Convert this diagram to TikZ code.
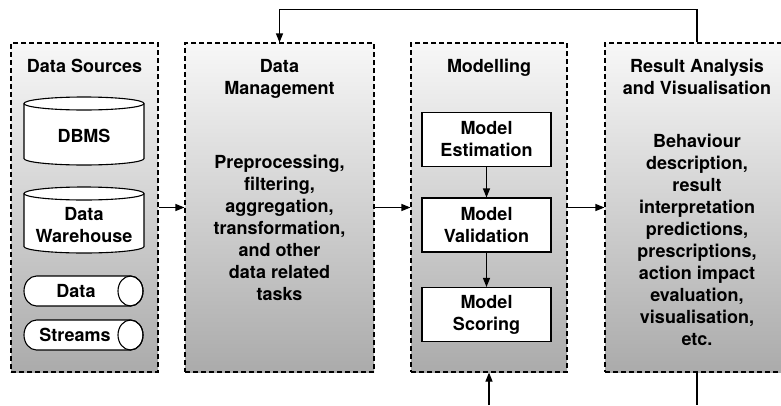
\documentclass[tikz,border=0pt]{standalone}
\usepackage{fontspec}
\setmainfont{TeX Gyre Heros}
\usetikzlibrary{arrows.meta}
\begin{document}
\begin{tikzpicture}[x=1pt,y=-1pt,
    stage/.style={draw, dash pattern=on 5pt off 3pt, line width=1.1pt,
      top color=black!3, bottom color=black!33, minimum width=#1,
      minimum height=329pt, inner sep=0pt},
    txt/.style={font=\bfseries\fontsize{18}{22}\selectfont, align=center, inner sep=0pt},
    model/.style={txt, draw, line width=1.1pt, fill=white, minimum width=129pt, minimum height=54pt},
    storeline/.style={draw, line width=1.1pt, fill=white},
    link/.style={line width=1.1pt, -{Triangle[length=9pt,width=7pt]}}]
    \pgfmathsetmacro{\mid}{207.5};
    \useasboundingbox (0,0) rectangle (781,405);
    % the four stages
    \node[stage=147pt] (src) at (84.5,\mid) {};
    \node[stage=189pt] (mgmt) at (279.5,\mid) {};
    \node[stage=156pt] (mod) at (489,\mid) {};
    \node[stage=184pt] (res) at (697,\mid) {};
    % titles
    \node[txt, anchor=north] (srcT) at (84.5,59) {Data Sources};
    \node[txt, anchor=north] (mgmtT) at (279.5,59) {Data\\Management};
    \node[txt, anchor=north] (modT) at (489,59) {Modelling};
    \node[txt, anchor=north] (resT) at (697,59) {Result Analysis\\and Visualisation};
    % data sources: two upright drums, two lying ones
    \foreach \yt/\yb in {103.5/158.5, 193.5/246.5} {
      \path[storeline] (24,\yt) -- (24,\yb) arc[start angle=180, end angle=360, x radius=60pt, y radius=6.5pt]
        -- (144,\yt) arc[start angle=0, end angle=180, x radius=60pt, y radius=6.5pt] -- cycle;
      \draw[line width=1.1pt] (24,\yt) arc[start angle=180, end angle=360, x radius=60pt, y radius=6.5pt];
    }
    \foreach \yc in {291, 335} {
      \path[storeline] (36.5,\yc-15) -- (130.5,\yc-15) arc[start angle=90, end angle=-90, x radius=12.5pt, y radius=15pt]
        -- (36.5,\yc+15) arc[start angle=270, end angle=90, x radius=12.5pt, y radius=15pt] -- cycle;
      \draw[line width=1.1pt] (130.5,\yc) ellipse[x radius=12.5pt, y radius=15pt];
    }
    \node[txt, anchor=north] (dbms) at (84,129) {DBMS};
    \node[txt, anchor=north] (dwh) at (84,207) {Data\\Warehouse};
    \node[txt] (strA) at (76,291) {Data};
    \node[txt] (strB) at (75,335) {Streams};
    % management
    \node[txt, anchor=north] (mgmtB) at (279.5,155) {Preprocessing,\\filtering,\\aggregation,\\transformation,\\and other\\data related\\tasks};
    % modelling
    \node[model] (est) at (486.5,139.5) {Model\\Estimation};
    \node[model] (val) at (486.5,225) {Model\\Validation};
    \node[model] (sco) at (486.5,314.5) {Model\\Scoring};
    % results
    \node[txt, anchor=north] (resB) at (697,133.5) {Behaviour\\description,\\result\\interpretation\\predictions,\\prescriptions,\\action impact\\evaluation,\\visualisation,\\etc.};
    % connectors
    \draw[link] (src) -- (mgmt);
    \draw[link] (mgmt) -- (mod);
    \draw[link] (mod) -- (res);
    \draw[link] (est) -- (val);
    \draw[link] (val) -- (sco);
    \draw[link] (res.north) -- ++(0,-33) -| (mgmt.north);
    \coordinate (resOut) at (697,405);
    \coordinate (modIn) at (489,405);
    \draw[line width=1.1pt] (res.south) -- (resOut);
    \draw[link] (modIn) -- (mod.south);
\end{tikzpicture}
\end{document}
